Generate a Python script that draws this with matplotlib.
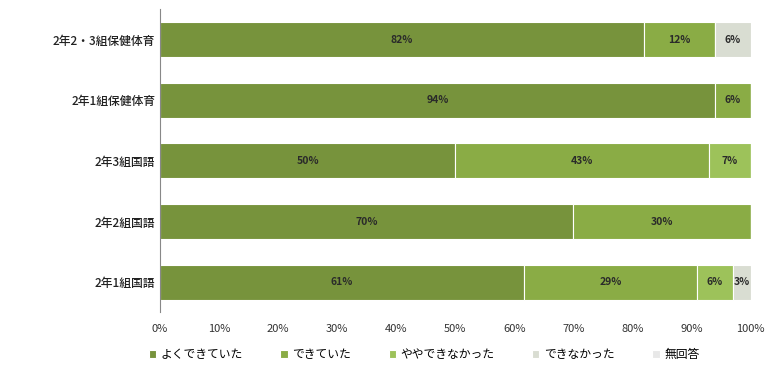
import numpy as np
from matplotlib import pyplot as plt

plt.rcParams['font.family'] = ['Noto Sans CJK JP', 'DejaVu Sans']

classes = ['2年2・3組保健体育', '2年1組保健体育', '2年3組国語', '2年2組国語', '2年1組国語']
categories = ['よくできていた', 'できていた', 'ややできなかった', 'できなかった', '無回答']
yoku = [82, 94, 50, 70, 61]
dekiteita = [12, 6, 43, 30, 29]
yaya = [0, 0, 7, 0, 6]
dekinakatta = [6, 0, 0, 0, 3]
mukaitou = [0, 0, 0, 0, 0]
ticks = [0, 10, 20, 30, 40, 50, 60, 70, 80, 90, 100]

series = [yoku, dekiteita, yaya, dekinakatta, mukaitou]
colors = ['#77933c', '#8aac45', '#9dc25a', '#d9ddd2', '#e8e8e8']

# 100% stacked: each row scaled to its own total
totals = np.sum(np.array(series, dtype=float), axis=0)

fig = plt.figure(figsize=(7.71, 3.72), dpi=100)
ax = fig.add_axes([0.2075, 0.16, 0.766, 0.815])

y = np.arange(len(classes))
left = np.zeros(len(classes))
for vals, col, name in zip(series, colors, categories):
	vals = np.array(vals, dtype=float)
	widths = vals / totals * 100
	ax.barh(y, widths, left=left, height=0.58, color=col, edgecolor='white', linewidth=0.8, label=name)
	for yi, (l, w, v) in enumerate(zip(left, widths, vals)):
		if v > 0:
			ax.text(l + w / 2, yi, str(int(v)) + '%', ha='center', va='center', fontsize=7.5,
				color='#2a2a2a', fontweight='bold')
	left = left + widths

ax.set_xlim(0, 100)
ax.set_ylim(len(classes) - 0.5, -0.5)
ax.set_yticks(y)
ax.set_yticklabels(classes, fontsize=8.5, color='#222222', fontweight='medium')
ax.set_xticks(ticks)
ax.set_xticklabels([str(t) + '%' for t in ticks], fontsize=8, color='#333333')
ax.tick_params(axis='both', length=0)
ax.tick_params(axis='x', pad=8)
for s in ['top', 'right', 'bottom']:
	ax.spines[s].set_visible(False)
ax.spines['left'].set_color('#888888')

fig.legend(loc='lower center', bbox_to_anchor=(0.55, 0.0), ncol=5, frameon=False, fontsize=8.5,
	handlelength=0.6, handleheight=0.6, columnspacing=3.2, handletextpad=0.4)
fig.savefig('out.png', dpi=100)
